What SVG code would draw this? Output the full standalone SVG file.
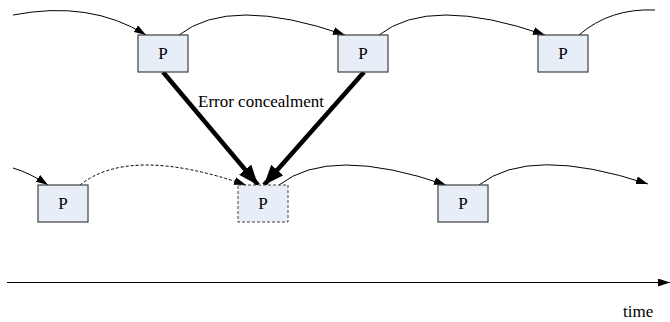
<svg xmlns="http://www.w3.org/2000/svg" width="670" height="322" viewBox="0 0 670 322">
<style>
.box{fill:#e8eef7;stroke:#404040;stroke-width:1.2}
.dbox{fill:#e8eef7;stroke:#404040;stroke-width:1;stroke-dasharray:3,2}
.txt{font-family:"Liberation Serif","Times New Roman",serif;font-size:17px;fill:#000}
.lbl{font-family:"Liberation Serif","Times New Roman",serif;font-size:17px;fill:#000;text-anchor:middle}
.arc{fill:none;stroke:#000;stroke-width:1}
.darc{fill:none;stroke:#000;stroke-width:1;stroke-dasharray:3,2}
.thick{fill:none;stroke:#000;stroke-width:4.5}
</style>
<defs>
<marker id="ah" viewBox="0 0 12 8" refX="12" refY="4" markerWidth="12" markerHeight="8" markerUnits="userSpaceOnUse" orient="auto">
<path d="M0,0 L12,4 L0,8 Z" fill="#000"/>
</marker>
<marker id="big" viewBox="0 0 20 16" refX="20" refY="8" markerWidth="20" markerHeight="16" markerUnits="userSpaceOnUse" orient="auto">
<path d="M0,0 L20,8 L0,16 Z" fill="#000"/>
</marker>
</defs>
<g id="connectors">
<path class="arc" d="M13,15 Q90,0 146,35" marker-end="url(#ah)"/>
<path class="arc" d="M179,35 Q230,-5 345,35" marker-end="url(#ah)"/>
<path class="arc" d="M379,35 Q430,-5 545,35" marker-end="url(#ah)"/>
<path class="arc" d="M579,35 Q610,8 655,10"/>
<path class="arc" d="M13,168 Q30,173 48,185" marker-end="url(#ah)"/>
<path class="darc" d="M80,185 Q130,145 246,185" marker-end="url(#ah)"/>
<path class="arc" d="M279,185 Q330,145 446,185" marker-end="url(#ah)"/>
<path class="arc" d="M479,185 Q530,145 648,184" marker-end="url(#ah)"/>
<path class="thick" d="M163,72 L258,185" marker-end="url(#big)"/>
<path class="thick" d="M364,72 L264,185" marker-end="url(#big)"/>
<path class="arc" d="M7,282.5 L670,282.5" stroke-width="1.3" marker-end="url(#ah)"/>
</g>
<text class="txt" x="198" y="107">Error concealment</text>
<text class="txt" x="623" y="317">time</text>
<g id="t1"><rect class="box" x="138" y="35" width="50" height="37"/><text class="lbl" x="163" y="59">P</text></g>
<g id="t2"><rect class="box" x="338" y="35" width="50" height="37"/><text class="lbl" x="363" y="59">P</text></g>
<g id="t3"><rect class="box" x="538" y="35" width="50" height="37"/><text class="lbl" x="563" y="59">P</text></g>
<g id="b1"><rect class="box" x="38" y="185" width="50" height="37"/><text class="lbl" x="63" y="209">P</text></g>
<g id="b2"><rect class="dbox" x="238" y="185" width="50" height="37"/><text class="lbl" x="263" y="209">P</text></g>
<g id="b3"><rect class="box" x="438" y="185" width="50" height="37"/><text class="lbl" x="463" y="209">P</text></g>
</svg>
